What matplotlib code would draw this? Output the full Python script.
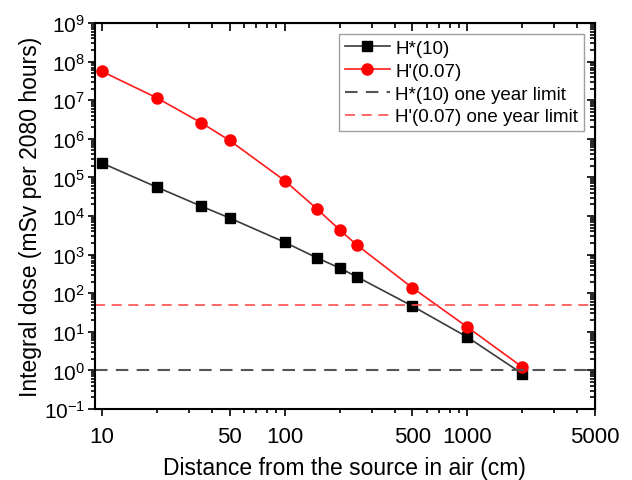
import matplotlib
matplotlib.use("Agg")
import matplotlib.pyplot as plt
from matplotlib.ticker import LogLocator, FixedLocator, FixedFormatter, NullFormatter

plt.rcParams['font.family'] = ['Liberation Sans', 'DejaVu Sans']

# distance from the source (cm)
distance = [10, 20, 35, 50, 100, 150, 200, 250, 500, 1000, 2000]
# integral dose, mSv per 2080 hours
h10 = [2.36e5, 5.6e4, 1.8e4, 8.9e3, 2.1e3, 830, 450, 263, 46.5, 7.3, 0.82]
h007 = [5.6e7, 1.15e7, 2.6e6, 9.1e5, 8.3e4, 1.55e4, 4.4e3, 1.74e3, 139, 13.3, 1.22]
# one year limits
h10_limit = 1.0
h007_limit = 50.0

xticks = [10, 50, 100, 500, 1000, 5000]
xticklabels = ['10', '50', '100', '500', '1000', '5000']

fig = plt.figure(figsize=(6.32, 4.81), dpi=100)
ax = fig.add_axes([0.150, 0.1476, 0.7915, 0.8024])

ax.plot(distance, h10, '-s', color='#3a3a3a', mfc='black', mec='black',
        markersize=6.5, lw=1.2, label='H*(10)')
ax.plot(distance, h007, '-o', color='#ff1a1a', mfc='#ff0000', mec='#ff0000',
        markersize=8, lw=1.2, label="H'(0.07)")
ax.axhline(h10_limit, color='#555555', ls=(0, (6, 4)), lw=1.5,
           label='H*(10) one year limit')
ax.axhline(h007_limit, color='#ff4d4d', ls=(0, (6, 4)), lw=1.2,
           label="H'(0.07) one year limit")

ax.set_xscale('log')
ax.set_yscale('log')
ax.set_xlim(9.15, 5000)
ax.set_ylim(1e-1, 1e9)

ax.xaxis.set_major_locator(FixedLocator(xticks))
ax.xaxis.set_major_formatter(FixedFormatter(xticklabels))
minor_x = [v * 10 ** d for d in range(1, 4) for v in range(1, 10)]
minor_x = [m for m in minor_x if m not in xticks and m < 5000]
ax.xaxis.set_minor_locator(FixedLocator(minor_x))
ax.xaxis.set_minor_formatter(NullFormatter())

ax.yaxis.set_major_locator(LogLocator(base=10, numticks=20))
ax.yaxis.set_minor_locator(LogLocator(base=10, subs=range(2, 10), numticks=20))
ax.yaxis.set_minor_formatter(NullFormatter())

ax.tick_params(which='both', direction='out', top=False, right=False, width=1.2)
ax.tick_params(which='major', length=5)
ax.tick_params(which='minor', length=3)
ax.tick_params(axis='x', labelsize=16, pad=7)
ax.tick_params(axis='y', labelsize=15, pad=2)

# mirrored ticks pointing inward on top and right
secx = ax.secondary_xaxis('top')
secx.xaxis.set_major_locator(FixedLocator(xticks))
secx.xaxis.set_minor_locator(FixedLocator(minor_x))
secx.tick_params(which='both', direction='in', labeltop=False, width=1.2)
secx.tick_params(which='major', length=6)
secx.tick_params(which='minor', length=3.5)
secy = ax.secondary_yaxis('right')
secy.yaxis.set_major_locator(LogLocator(base=10, numticks=20))
secy.yaxis.set_minor_locator(LogLocator(base=10, subs=range(2, 10), numticks=20))
secy.tick_params(which='both', direction='in', labelright=False, width=1.2)
secy.tick_params(which='major', length=6)
secy.tick_params(which='minor', length=3.5)

for s in ax.spines.values():
    s.set_linewidth(1.5)

ax.set_xlabel('Distance from the source in air (cm)', fontsize=16.5, labelpad=7)
ax.set_ylabel('Integral dose (mSv per 2080 hours)', fontsize=16.5, labelpad=1)

leg = ax.legend(loc='upper right', fontsize=13.5, frameon=True, fancybox=False,
                edgecolor='#888888', handlelength=2.4, handletextpad=0.3,
                borderpad=0.3, labelspacing=0.3, borderaxespad=0.6)
leg.get_frame().set_linewidth(1.0)

fig.savefig('out.png', dpi=100)
